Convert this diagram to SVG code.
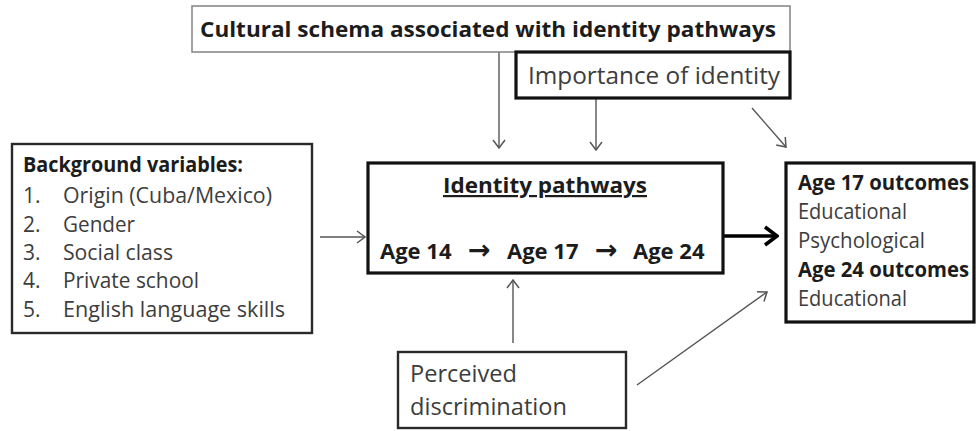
<svg xmlns="http://www.w3.org/2000/svg" width="976" height="431" viewBox="0 0 976 431">
  <style>
    text { font-family: "Open Sans", "Liberation Sans", sans-serif; }
    .b { font-weight: bold; fill: #1c1c1c; }
    .r { fill: #3d3d3d; }
    .s21 { font-size: 21px; }
    .s22 { font-size: 22px; }
    .s24 { font-size: 24px; }
    .ar { font-family: "DejaVu Sans", sans-serif; font-size: 27px; }
    .box { fill: #fff; }
    .thin { stroke: #8a8a8a; stroke-width: 1.6; }
    .mid { stroke: #2a2a2a; stroke-width: 2.4; }
    .thick { stroke: #111; stroke-width: 3.2; }
    .conn { stroke: #555; stroke-width: 1.4; fill: none; marker-end: url(#arr); }
    .main { stroke: #000; stroke-width: 3.6; fill: none; marker-end: url(#arrBold); }
  </style>
  <defs>
    <marker id="arr" viewBox="0 0 10 14" refX="9" refY="7" markerWidth="10" markerHeight="14" markerUnits="userSpaceOnUse" orient="auto">
      <path d="M1,1 L9,7 L1,13" fill="none" stroke="#555" stroke-width="1.5"/>
    </marker>
    <marker id="arrBold" viewBox="0 0 16 22" refX="14" refY="11" markerWidth="16" markerHeight="22" markerUnits="userSpaceOnUse" orient="auto">
      <path d="M2,2 L14,11 L2,20" fill="none" stroke="#000" stroke-width="3.6"/>
    </marker>
  </defs>

  <g id="connectors">
    <line class="conn" x1="499" y1="52" x2="499" y2="148"/>
    <line class="conn" x1="596" y1="98" x2="596" y2="150"/>
    <line class="conn" x1="752" y1="108" x2="786" y2="147"/>
    <line class="conn" x1="320" y1="237" x2="365" y2="237"/>
    <line class="main" x1="724" y1="236" x2="777" y2="236"/>
    <line class="conn" x1="513" y1="343" x2="513" y2="280"/>
    <line class="conn" x1="637" y1="385" x2="767" y2="292"/>
  </g>

  <g id="cultural-schema">
    <rect class="box thin" x="192" y="6" width="598" height="46"/>
    <text class="b s21" x="200" y="37" textLength="576" lengthAdjust="spacingAndGlyphs">Cultural schema associated with identity pathways</text>
  </g>

  <g id="importance">
    <rect class="box thick" x="516" y="52" width="274" height="46"/>
    <text class="r s24" x="528" y="84" textLength="252" lengthAdjust="spacingAndGlyphs">Importance of identity</text>
  </g>

  <g id="background">
    <rect class="box mid" x="12" y="144" width="300" height="189"/>
    <text class="b s21" x="23" y="172" textLength="220" lengthAdjust="spacingAndGlyphs">Background variables:</text>
    <g class="r s21">
      <text x="23" y="203">1.</text>
      <text x="63" y="203" textLength="209" lengthAdjust="spacingAndGlyphs">Origin (Cuba/Mexico)</text>
      <text x="23" y="232">2.</text>
      <text x="63" y="232" textLength="72" lengthAdjust="spacingAndGlyphs">Gender</text>
      <text x="23" y="260">3.</text>
      <text x="63" y="260" textLength="110" lengthAdjust="spacingAndGlyphs">Social class</text>
      <text x="23" y="288">4.</text>
      <text x="63" y="288" textLength="136" lengthAdjust="spacingAndGlyphs">Private school</text>
      <text x="23" y="317">5.</text>
      <text x="63" y="317" textLength="222" lengthAdjust="spacingAndGlyphs">English language skills</text>
    </g>
  </g>

  <g id="identity-pathways">
    <rect class="box thick" x="368" y="163" width="355" height="110"/>
    <text class="b s22" x="443" y="193" textLength="204" lengthAdjust="spacingAndGlyphs" text-decoration="underline">Identity pathways</text>
    <text class="b s22" y="259">
      <tspan x="380">Age 14</tspan>
      <tspan class="ar" x="468" y="259">→</tspan>
      <tspan x="507" y="259">Age 17</tspan>
      <tspan class="ar" x="595" y="259">→</tspan>
      <tspan x="633" y="259">Age 24</tspan>
    </text>
  </g>

  <g id="outcomes">
    <rect class="box thick" x="786" y="163" width="188" height="159"/>
    <text class="b s21" x="798" y="190" textLength="171" lengthAdjust="spacingAndGlyphs">Age 17 outcomes</text>
    <text class="r s21" x="798" y="219" textLength="109" lengthAdjust="spacingAndGlyphs">Educational</text>
    <text class="r s21" x="798" y="248" textLength="127" lengthAdjust="spacingAndGlyphs">Psychological</text>
    <text class="b s21" x="798" y="277" textLength="171" lengthAdjust="spacingAndGlyphs">Age 24 outcomes</text>
    <text class="r s21" x="798" y="306" textLength="109" lengthAdjust="spacingAndGlyphs">Educational</text>
  </g>

  <g id="perceived-discrimination">
    <rect class="box mid" x="398" y="352" width="228" height="76"/>
    <text class="r s24" x="410" y="382" textLength="107" lengthAdjust="spacingAndGlyphs">Perceived</text>
    <text class="r s24" x="410" y="415" textLength="157" lengthAdjust="spacingAndGlyphs">discrimination</text>
  </g>
</svg>
